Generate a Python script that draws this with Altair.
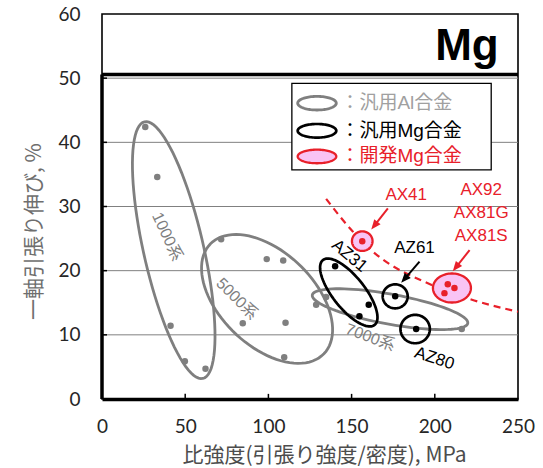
import numpy as np
import pandas as pd
import altair as alt

# Plot-area size in pixels and data ranges
W, H = 416, 385
X_MAX, Y_MAX = 250, 60
SX, SY = W / X_MAX, H / Y_MAX

x_ticks = [0, 50, 100, 150, 200, 250]
y_ticks = [0, 10, 20, 30, 40, 50, 60]
grid_vals = [10, 20, 30, 40, 50]

# General-purpose Al alloys (1000 / 5000 / 7000 series)
al_x = [26.0, 33.2, 41.2, 49.8, 62.2, 71.6, 99.0, 108.9, 84.6, 110.3, 109.5, 128.7, 134.7, 216.2]
al_y = [42.4, 34.6, 11.4, 5.9, 4.7, 24.9, 21.8, 21.6, 11.8, 11.9, 6.5, 14.7, 15.9, 10.9]
# General-purpose Mg alloys (AZ31 x3, AZ61, AZ80)
mg_x = [140.1, 160.3, 154.7, 176.2, 188.8]
mg_y = [20.7, 14.7, 12.9, 16.0, 10.9]
# Developed Mg alloys (AX41, AX92, AX81G, AX81S)
new_x = [156.4, 207.8, 211.8, 205.8]
new_y = [24.6, 17.9, 17.3, 16.5]

# Trend curve (dashed)
trend_x = [134.7, 150.7, 161.8, 197.8, 221.9, 250.0]
trend_y = [31.2, 26.1, 23.2, 17.8, 15.5, 13.6]

# Group ellipses: centre in data units, semi-axes in px, rotation in degrees
ell_name = ["s1000", "s5000", "s7000", "az31", "az61", "az80", "ax41", "ax92",
            "key_al", "key_mg", "key_new"]
ell_cx = [43.1, 99.2, 173.1, 148.3, 176.2, 188.2, 156.4, 210.3, 129.2, 129.2, 129.2]
ell_cy = [23.2, 15.6, 14.0, 16.6, 16.0, 10.9, 24.6, 17.3, 46.1, 41.8, 37.8]
ell_a = [131.6, 79.0, 79.0, 41.5, 12.5, 14.7, 10.3, 19.0, 19.3, 19.3, 19.3]
ell_b = [30.0, 47.0, 15.0, 16.0, 12.0, 14.2, 9.8, 14.5, 6.8, 6.8, 6.8]
ell_rot = [77.2, 44.0, 10.3, 51.5, 0, 0, 0, 0, 0, 0, 0]
ell_group = ["al", "al", "al", "mg", "mg", "mg", "new", "new", "al", "mg", "new"]

# Legend box corners (data units)
box_x, box_x2, box_y, box_y2 = 114.1, 233.9, 49.2, 35.7
legend_text = ["：汎用Al合金", "：汎用Mg合金", "：開発Mg合金"]
legend_x = [143.3, 143.3, 143.3]
legend_y = [46.1, 41.8, 37.8]
legend_group = ["al_text", "mg", "new"]

# Callout arrows (tail -> head)
arr_x = [190.8, 171.8, 220.9]
arr_y = [21.4, 29.7, 23.2]
arr_x2 = [179.8, 161.8, 210.8]
arr_y2 = [18.1, 26.4, 19.9]
arr_group = ["mg", "new", "new"]

# Annotation labels
lab_text = ["1000系", "5000系", "7000系", "AZ31", "AZ61", "AZ80", "AX41", "AX92", "AX81G", "AX81S"]
lab_x = [39.1, 81.1, 161.2, 148.7, 187.8, 199.8, 182.8, 227.9, 227.9, 227.9]
lab_y = [25.3, 15.6, 9.6, 22.3, 23.6, 6.3, 31.8, 32.5, 29.0, 25.4]
lab_rot = [65, 45, 20, 40, 0, 18, 0, 0, 0, 0]
lab_group = ["al", "al", "al", "mg", "mg", "mg", "new", "new", "new", "new"]

# ---- styling ----
RED = "#e8202a"
PINK = "#f9c3f4"
GRAY = "#7f7f7f"
stroke_of = {"al": GRAY, "mg": "#000000", "new": RED, "al_text": "#a0a0a0"}
FONT = "Liberation Sans, Noto Sans CJK JP"
CJK = "Noto Sans CJK JP"

xs = alt.Scale(domain=[0, X_MAX], nice=False, zero=False)
ys = alt.Scale(domain=[0, Y_MAX], nice=False, zero=False)

# One axis definition shared by every layer so the layers merge into a single axis
AXIS_X = alt.Axis(
    values=x_ticks, title="比強度(引張り強度/密度), MPa", grid=False, ticks=False,
    domainColor="#000000", domainWidth=3.5, labelFont="Lato", labelFontSize=19,
    labelColor="#262626", labelPadding=18, labelFlush=False, labelOverlap=False,
    titleFont=CJK, titleFontSize=21, titleFontWeight="normal", titleColor="#4d4d4d",
    titleX=222, titleY=56, titleBaseline="middle")
AXIS_Y = alt.Axis(
    values=y_ticks, title="一軸引張り伸び, %", grid=False, ticks=False, domain=False,
    labelFont="Lato", labelFontSize=19, labelColor="#262626", labelPadding=22,
    labelOverlap=False, titleFont=CJK, titleFontSize=21, titleFontWeight="normal",
    titleColor="#6e6e6e", titleX=-68, titleY=217, titleBaseline="middle")


def ex(f="x"):
    return alt.X(f"{f}:Q", scale=xs, axis=AXIS_X)


def ey(f="y"):
    return alt.Y(f"{f}:Q", scale=ys, axis=AXIS_Y)


def ellipse_path(ratio, n=90):
    t = np.linspace(0, 2 * np.pi, n, endpoint=False)
    pts = [f"{np.cos(a):.4f},{ratio * np.sin(a):.4f}" for a in t]
    return "M" + " L".join(pts) + " Z"


# ---- tables ----
pts = pd.DataFrame({
    "x": al_x + mg_x + new_x,
    "y": al_y + mg_y + new_y,
    "color": [GRAY] * len(al_x) + ["#000000"] * len(mg_x) + [RED] * len(new_x),
})

ell = pd.DataFrame({"name": ell_name, "x": ell_cx, "y": ell_cy, "a": ell_a, "b": ell_b,
                    "rot": ell_rot, "group": ell_group})
ell["size"] = 4 * ell["a"] ** 2
ell["stroke"] = ell["group"].map(stroke_of)
ell["fill"] = np.where(ell["group"] == "new", PINK, "transparent")
ell["sw"] = ell["group"].map({"al": 2.8, "mg": 2.7, "new": 2.3})
ell_paths = [ellipse_path(b / a) for a, b in zip(ell_a, ell_b)]

trend = pd.DataFrame({"x": trend_x, "y": trend_y})

arr = pd.DataFrame({"x": arr_x, "y": arr_y, "x2": arr_x2, "y2": arr_y2, "group": arr_group})
dxp = (arr["x2"] - arr["x"]) * SX
dyp = -(arr["y2"] - arr["y"]) * SY
arr["rot"] = (np.degrees(np.arctan2(dxp, -dyp)) + 360) % 360
norm = np.hypot(dxp, dyp)
arr["xe"] = arr["x2"] - (dxp / norm) * 6 / SX
arr["ye"] = arr["y2"] + (dyp / norm) * 6 / SY
arr["color"] = arr["group"].map(stroke_of)

labels = pd.DataFrame({"text": lab_text, "x": lab_x, "y": lab_y, "rot": lab_rot,
                       "color": [stroke_of[g] for g in lab_group]})
labels["size"] = np.where(labels["text"].str.contains("系"), 16, 17)

legend = pd.DataFrame({"text": legend_text, "x": legend_x, "y": legend_y,
                       "color": [stroke_of[g] for g in legend_group]})

xtick_df = pd.DataFrame({"x": x_ticks[1:-1], "y": [0.0] * 4, "y2": [0.8] * 4})
ytick_df = pd.DataFrame({"y": y_ticks[1:-1], "x": [0.0] * 5, "x2": [3.0] * 5})

# ---- layers ----
grid = alt.Chart(pd.DataFrame({"y": grid_vals})).mark_rule(
    color="#808080", strokeWidth=1).encode(y=ey())

xtick = alt.Chart(xtick_df).mark_rule(color="#000000", strokeWidth=1.5).encode(
    x=ex(), y=ey(), y2="y2:Q")
ytick = alt.Chart(ytick_df).mark_rule(color="#000000", strokeWidth=1.5).encode(
    y=ey(), x=ex(), x2="x2:Q")

box = alt.Chart(pd.DataFrame({"x": [box_x], "x2": [box_x2], "y": [box_y], "y2": [box_y2]})).mark_rect(
    fill="#ffffff", stroke="#000000", strokeWidth=1.3).encode(
    x=ex(), x2="x2:Q", y=ey(), y2="y2:Q")

top_rule = alt.Chart(pd.DataFrame({"y": [50.57]})).mark_rule(
    color="#000000", strokeWidth=3.5).encode(y=ey())
left_rule = alt.Chart(pd.DataFrame({"x": [0], "y": [0], "y2": [50.57]})).mark_rule(
    color="#000000", strokeWidth=3.5).encode(x=ex(), y=ey(), y2="y2:Q")

trend_line = alt.Chart(trend).mark_line(
    color=RED, strokeWidth=2.2, strokeDash=[7, 5], interpolate="monotone").encode(x=ex(), y=ey())

ellipses = alt.Chart(ell).mark_point(opacity=1, fillOpacity=1, strokeOpacity=1).encode(
    x=ex(), y=ey(),
    shape=alt.Shape("name:N", scale=alt.Scale(domain=ell_name, range=ell_paths), legend=None),
    size=alt.Size("size:Q", scale=None),
    angle=alt.Angle("rot:Q", scale=None),
    stroke=alt.Stroke("stroke:N", scale=None),
    fill=alt.Fill("fill:N", scale=None),
    strokeWidth=alt.StrokeWidth("sw:Q", scale=None),
)

dots = alt.Chart(pts).mark_circle(size=42, opacity=1).encode(
    x=ex(), y=ey(), color=alt.Color("color:N", scale=None))

arrow_lines = alt.Chart(arr).mark_rule(strokeWidth=2).encode(
    x=ex(), y=ey(), x2="xe:Q", y2="ye:Q", color=alt.Color("color:N", scale=None))
arrow_heads = alt.Chart(arr).mark_point(
    shape="M0,0 L-0.8,2 L0.8,2 Z", size=100, filled=True, opacity=1, strokeWidth=0).encode(
    x=ex("x2"), y=ey("y2"), angle=alt.Angle("rot:Q", scale=None),
    color=alt.Color("color:N", scale=None))

label_marks = alt.Chart(labels).mark_text(font=FONT, baseline="middle", align="center").encode(
    x=ex(), y=ey(), text="text:N", angle=alt.Angle("rot:Q", scale=None),
    size=alt.Size("size:Q", scale=None), color=alt.Color("color:N", scale=None))

legend_marks = alt.Chart(legend).mark_text(font=FONT, fontSize=19, baseline="middle", align="left").encode(
    x=ex(), y=ey(), text="text:N", color=alt.Color("color:N", scale=None))

title_mark = alt.Chart(pd.DataFrame({"x": [219.3], "y": [52.9], "t": ["Mg"]})).mark_text(
    font="Liberation Sans", fontSize=44, fontWeight="bold", align="center",
    baseline="alphabetic", color="#000000").encode(x=ex(), y=ey(), text="t:N")

chart = alt.layer(
    grid, xtick, ytick, box, top_rule, left_rule, trend_line, ellipses, dots,
    arrow_lines, arrow_heads, label_marks, legend_marks, title_mark,
).properties(
    width=W, height=H,
    autosize=alt.AutoSizeParams(type="none"),
    padding={"left": 102, "top": 14, "right": 25, "bottom": 69},
).configure_view(stroke="#000000", strokeWidth=1.6)

chart.save("out.html", embed_options={"renderer": "svg", "actions": False})
